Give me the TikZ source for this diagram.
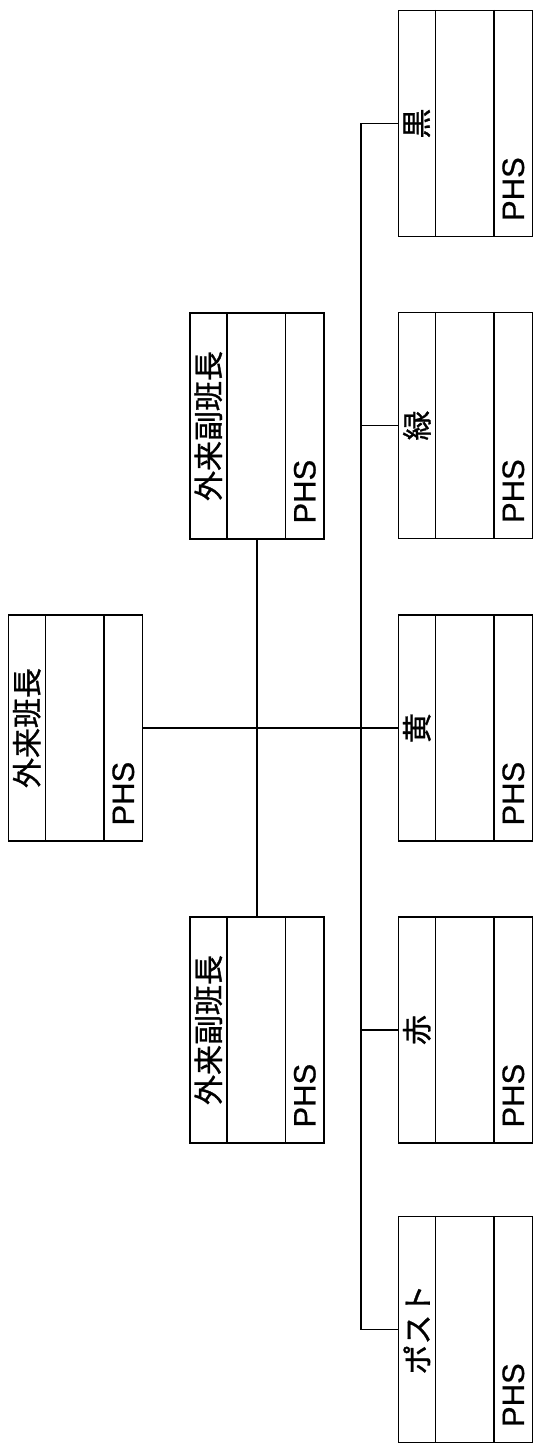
\documentclass[tikz,border=0pt]{standalone}
\usepackage{fontspec}
\setmainfont{Liberation Sans}
\newfontfamily\jpfont[FakeBold=1]{Noto Sans CJK JP}
\newfontfamily\phsfont[FakeBold=0.6]{Liberation Sans}
\begin{document}
\begin{tikzpicture}[x=1pt,y=-1pt,
  box/.style={draw,line width=1.4pt,minimum width=134pt,minimum height=226pt,inner sep=0pt},
  sep/.style={line width=1.4pt},
  conn/.style={line width=1.4pt},
  nametxt/.style={rotate=90,inner sep=0pt,font=\jpfont\fontsize{30}{32}\selectfont},
  phstxt/.style={rotate=90,anchor=west,inner sep=0pt,font=\phsfont\fontsize{31}{33}\selectfont}]
\useasboundingbox (0,0) rectangle (534,1443);
% boxes
\node[box] (chief) at (75.5,728) {};
\node[box] (vice1) at (257,426) {};
\node[box] (vice2) at (257,1030) {};
\node[box] (black) at (465.5,123.5) {};
\node[box] (green) at (465.5,425.5) {};
\node[box] (yellow) at (465.5,728) {};
\node[box] (red) at (465.5,1030) {};
\node[box] (post) at (465.5,1329.5) {};
% inner separators and texts
\foreach \b/\t in {chief/外来班長, vice1/外来副班長, vice2/外来副班長, black/黒, green/緑, yellow/黄, red/赤, post/ポスト}{
  \draw[sep] ([xshift=37.5pt]\b.north west) -- ([xshift=37.5pt]\b.south west);
  \draw[sep] ([xshift=96pt]\b.north west) -- ([xshift=96pt]\b.south west);
  \node[nametxt] (\b-name) at ([xshift=19pt]\b.west) {\t};
  \node[phstxt] (\b-phs) at ([xshift=115.5pt,yshift=16pt]\b.south west) {PHS};
}
% connectors
\coordinate (bustop) at (361,123.5);
\coordinate (busbot) at (361,1329.5);
\draw[conn] (chief.east) -- (yellow.west);
\draw[conn] (vice1.south) -- (vice2.north);
\draw[conn] (black.west) -- (bustop) -- (busbot) -- (post.west);
\draw[conn] (green.west) -- (green.west -| bustop);
\draw[conn] (red.west) -- (red.west -| bustop);
\end{tikzpicture}
\end{document}
